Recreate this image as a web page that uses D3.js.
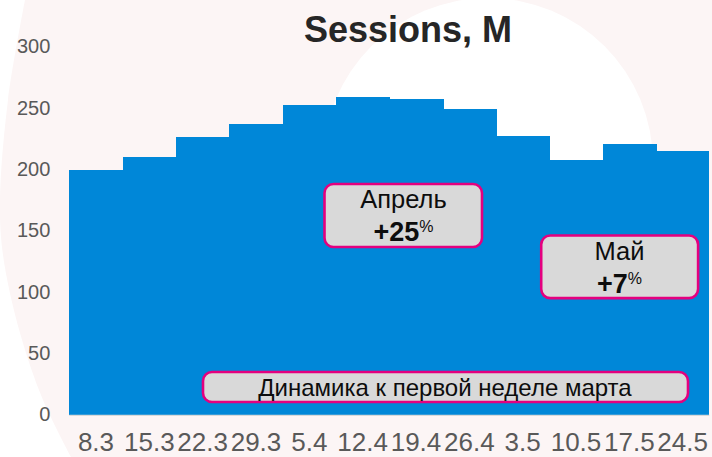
<!DOCTYPE html>
<html>
<head>
<meta charset="utf-8">
<script src="https://cdn.jsdelivr.net/npm/d3@7"></script>
<style>
  html, body { margin: 0; padding: 0; background: #ffffff; }
  svg { display: block; font-family: "Liberation Sans", Arial, sans-serif; }
</style>
</head>
<body>
<svg id="chart" width="712" height="457"></svg>
<script>
// ---- data ----
const categories = ["8.3", "15.3", "22.3", "29.3", "5.4", "12.4", "19.4", "26.4", "3.5", "10.5", "17.5", "24.5"];
const sessions = [199.5, 210, 226, 236.5, 252.5, 259, 257, 249, 227, 207.5, 220.5, 215];
const yTicks = [0, 50, 100, 150, 200, 250, 300];
const title = "Sessions, M";
const notes = [
  { label: "Апрель", value: "+25" },
  { label: "Май", value: "+7" }
];
const footnote = "Динамика к первой неделе марта";

// ---- layout ----
const W = 712, H = 457;
const svg = d3.select("#chart");

// background decoration
const bg = svg.append("g");
const leftEdge = [[25, 0], [8, 100], [0, 200], [3, 255], [20, 333], [43, 400], [71, 457]];
const edgePath = d3.line().curve(d3.curveCatmullRom)(leftEdge);
bg.append("path")
  .attr("d", edgePath + `L${W},${H}L${W},0Z`)
  .attr("fill", "#fcf5f5");
bg.append("circle")
  .attr("cx", 488).attr("cy", 163).attr("r", 165)
  .attr("fill", "#ffffff");

const x = d3.scaleBand().domain(categories).range([69.3, 709.3]).padding(0);
const y = d3.scaleLinear().domain([0, 300]).range([414.5, 46.5]);

// bars
svg.append("g").attr("shape-rendering", "crispEdges").selectAll("rect")
  .data(sessions)
  .join("rect")
  .attr("x", (d, i) => x(categories[i]))
  .attr("y", d => y(d))
  .attr("width", (d, i) => i < categories.length - 1 ? x.bandwidth() + 1 : x.bandwidth())
  .attr("height", d => y(0) - y(d))
  .attr("fill", "#0087d8");

// baseline
svg.append("line")
  .attr("x1", x.range()[0]).attr("x2", x.range()[1])
  .attr("y1", y(0) + 0.8).attr("y2", y(0) + 0.8)
  .attr("stroke", "#d9d9d9").attr("stroke-width", 1.2);

// y axis
const yAxis = svg.append("g")
  .attr("transform", `translate(${x.range()[0]},0)`)
  .call(d3.axisLeft(y).tickValues(yTicks).tickSize(0).tickPadding(19));
yAxis.select(".domain").remove();
yAxis.selectAll("text")
  .attr("font-size", 20)
  .attr("font-family", "Liberation Sans, Arial, sans-serif")
  .attr("fill", "#595959");

// x axis
const xAxis = svg.append("g")
  .attr("transform", `translate(0,${y(0)})`)
  .call(d3.axisBottom(x).tickSize(0));
xAxis.select(".domain").remove();
xAxis.selectAll("text")
  .attr("y", 36.5).attr("dy", 0)
  .attr("font-size", 26)
  .attr("font-family", "Liberation Sans, Arial, sans-serif")
  .attr("fill", "#595959");

// title
svg.append("text")
  .attr("x", 408).attr("y", 41.5)
  .attr("text-anchor", "middle")
  .attr("font-size", 36).attr("font-weight", "bold")
  .attr("fill", "#262626")
  .text(title);

// annotation boxes
const boxStyle = sel => sel.attr("fill", "#d9d9d9").attr("stroke", "#e4007f")
  .attr("stroke-width", 2.6).attr("rx", 9).attr("ry", 9);

const noteBoxes = [
  { x: 324.5, y: 184, w: 157.5, h: 63, cx: 403.5, ly: 207.5, vy: 241 },
  { x: 541.2, y: 235.5, w: 156.9, h: 62.6, cx: 619.5, ly: 260, vy: 292.7 }
];
notes.forEach((n, i) => {
  const b = noteBoxes[i];
  const g = svg.append("g");
  g.append("rect").attr("x", b.x).attr("y", b.y).attr("width", b.w).attr("height", b.h).call(boxStyle);
  g.append("text")
    .attr("x", b.cx).attr("y", b.ly)
    .attr("text-anchor", "middle")
    .attr("font-size", 25.5).attr("fill", "#0d0d0d")
    .text(n.label);
  const t = g.append("text")
    .attr("x", b.cx).attr("y", b.vy)
    .attr("text-anchor", "middle")
    .attr("font-size", 27).attr("font-weight", "bold").attr("fill", "#0d0d0d");
  t.append("tspan").text(n.value);
  t.append("tspan").attr("font-size", 16).attr("font-weight", "normal").attr("dy", -9).text("%");
});

const fb = svg.append("g");
fb.append("rect").attr("x", 203).attr("y", 372).attr("width", 485).attr("height", 30).call(boxStyle);
fb.append("text")
  .attr("x", 445).attr("y", 396)
  .attr("text-anchor", "middle")
  .attr("font-size", 24).attr("fill", "#0d0d0d")
  .text(footnote);
</script>
</body>
</html>
